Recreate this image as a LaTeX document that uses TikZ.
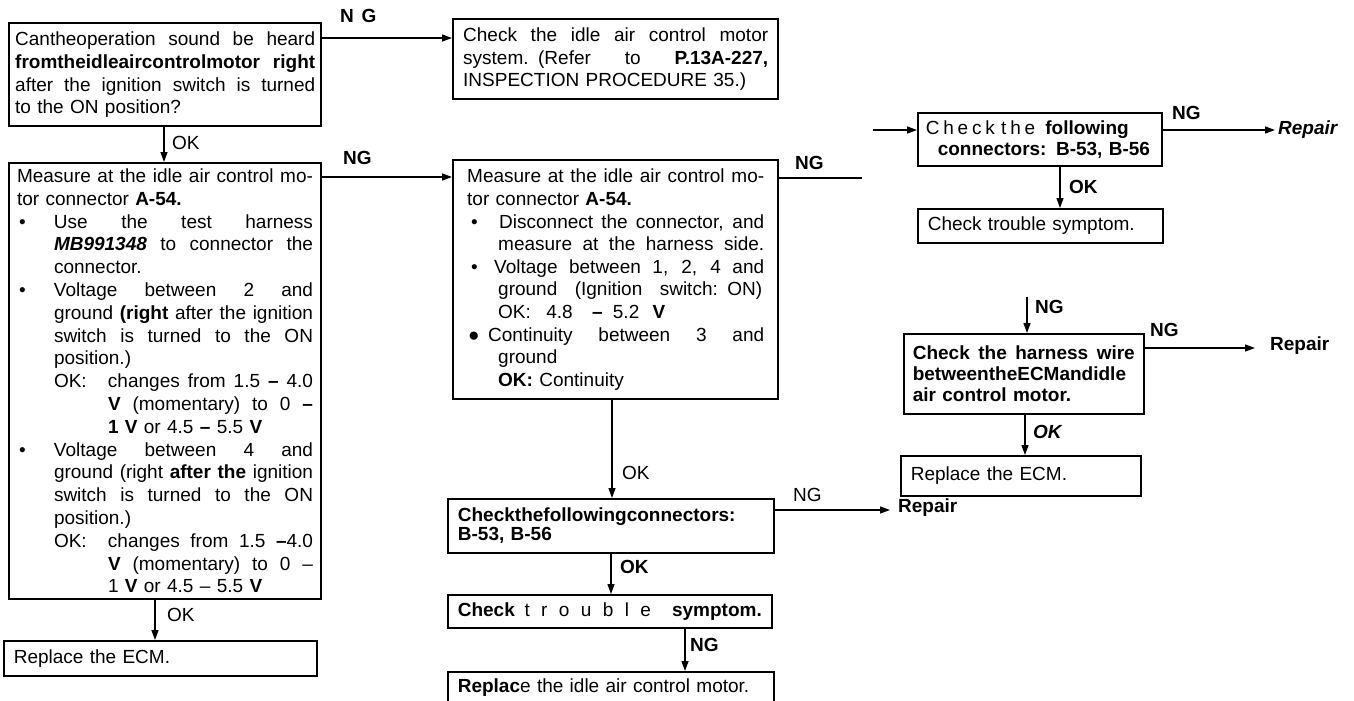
\documentclass[tikz,border=0pt]{standalone}
\usepackage{fontspec}
\setmainfont{Liberation Sans}
\usetikzlibrary{arrows.meta}
\newcommand\fs{\fontsize{19}{22.8}\selectfont}
% justified line of a given width
\newcommand\jw[2]{\makebox[#1][s]{\spaceskip=0.278em plus 1fil minus 0.04em\relax #2}}
\newcommand\lind[2]{\hspace*{#1}#2}
% bullet line: bullet offset, text indent, bullet, width of text, text
\newcommand\bitem[5]{\makebox[#2][l]{\hspace*{#1}#3}\jw{#4}{#5}}
\begin{document}
\begin{tikzpicture}[x=1pt,y=-1pt,
  box/.style={draw, line width=1.6pt, anchor=north west, align=left, inner ysep=0pt, font=\fs},
  thick box/.style={box, line width=2.4pt},
  arr/.style={line width=1.3pt, -{Triangle[length=10pt,width=7pt]}},
  plain/.style={line width=1.3pt},
  lab/.style={anchor=west, inner sep=0pt, font=\fs},
  blab/.style={anchor=west, inner sep=0pt, font=\fs\bfseries}]
\useasboundingbox[fill=white] (0,0) rectangle (1354,701);

% ---------------- left column
\node[thick box, text width=300pt, inner xsep=6pt, minimum height=103pt] (b1) at (8,22) {%
\jw{300pt}{Cantheoperation sound be heard}\\
\jw{300pt}{\bfseries fromtheidleaircontrolmotor right}\\
\jw{300pt}{after the ignition switch is turned}\\
to the ON position?};

\node[box, line width=2pt, text width=296pt, inner xsep=8pt, minimum height=436pt] (b3) at (8,162) {%
\jw{296pt}{Measure at the idle air control mo-}\\
tor connector \textbf{A-54.}\\
\bitem{2pt}{37pt}{•}{259pt}{Use the test harness}\\
\lind{37pt}{\jw{259pt}{\textbf{\textit{MB991348}} to connector the}}\\
\lind{37pt}{connector.}\\
\bitem{2pt}{37pt}{•}{259pt}{Voltage between 2 and}\\
\lind{37pt}{\jw{259pt}{ground \textbf{(right} after the ignition}}\\
\lind{37pt}{\jw{259pt}{switch is turned to the ON}}\\
\lind{37pt}{position.)}\\
\lind{37pt}{\makebox[54pt][l]{OK:}\jw{205pt}{changes from 1.5 \textbf{–} 4.0}}\\
\lind{91pt}{\jw{205pt}{\textbf{V} (momentary) to 0 \textbf{–}}}\\
\lind{91pt}{\textbf{1 V} or 4.5 \textbf{–} 5.5 \textbf{V}}\\
\bitem{2pt}{37pt}{•}{259pt}{Voltage between 4 and}\\
\lind{37pt}{\jw{259pt}{ground (right \textbf{after the} ignition}}\\
\lind{37pt}{\jw{259pt}{switch is turned to the ON}}\\
\lind{37pt}{position.)}\\
\lind{37pt}{\makebox[54pt][l]{OK:}\jw{205pt}{changes from 1.5 \textbf{–}4.0}}\\
\lind{91pt}{\jw{205pt}{\textbf{V} (momentary) to 0 –}}\\
\lind{91pt}{1 \textbf{V} or 4.5 – 5.5 \textbf{V}}};

\node[box, text width=293pt, inner xsep=10pt, minimum height=35pt] (b4) at (3,640) {Replace the ECM.};

% ---------------- middle column
\node[thick box, text width=305pt, inner xsep=10pt, minimum height=80pt] (b2) at (452,18) {%
\jw{305pt}{Check the idle air control motor}\\
\jw{305pt}{system. (Refer to \textbf{P.13A-227,}}\\
INSPECTION PROCEDURE 35.)};

\node[thick box, text width=297pt, inner xsep=14pt, minimum height=239pt, font=\fontsize{19}{22.6}\selectfont] (b5) at (452,159) {%
\jw{297pt}{Measure at the idle air control mo-}\\
tor connector \textbf{A-54.}\\
\bitem{4pt}{32pt}{•}{265pt}{Disconnect the connector, and}\\
\lind{31pt}{\jw{266pt}{measure at the harness side.}}\\
\bitem{4pt}{27pt}{•}{270pt}{Voltage between 1, 2, 4 and}\\
\lind{31pt}{\jw{264pt}{ground (Ignition switch: ON)}}\\
\lind{31pt}{OK:\ \hspace{9pt}4.8\ \hspace{13pt}\textbf{–}\ \hspace{4pt}5.2\ \hspace{7pt}\textbf{V}}\\
\bitem{1pt}{21pt}{●}{276pt}{Continuity between 3 and}\\
\lind{31pt}{ground}\\
\lind{31pt}{\textbf{OK:} Continuity}};

\node[box, line width=1.8pt, text width=306pt, inner xsep=10pt, minimum height=54pt, font=\fontsize{19}{19}\selectfont\bfseries] (m1) at (447,498) {%
Checkthefollowingconnectors:\\
B-53, B-56};

\node[box, text width=304pt, inner xsep=10pt, minimum height=33pt] (m2) at (447,594) {%
\jw{304pt}{\textbf{Check} {\addfontfeature{LetterSpace=60}trouble} \textbf{symptom.}}};

\node[box, text width=306pt, inner xsep=10pt, minimum height=32pt] (m3) at (447,671) {%
\textbf{Replac}e the idle air control motor.};

% ---------------- right column
\node[box, text width=228pt, inner xsep=8pt, minimum height=53pt, font=\fontsize{19}{21}\selectfont] (r0) at (917,112) {%
{\addfontfeature{LetterSpace=20}Check the} \textbf{following}\\
\mbox{\hspace*{12pt}\textbf{connectors: B-53, B-56}}};

\node[box, text width=225pt, inner xsep=10pt, minimum height=34pt] (r1) at (917,208) {Check trouble symptom.};

\node[box, text width=222pt, inner xsep=9pt, minimum height=80pt, font=\fontsize{19}{21}\selectfont\bfseries] (r2) at (903,333) {%
\jw{222pt}{Check the harness wire}\\
\jw{222pt}{betweentheECMandidle}\\
air control motor.};

\node[box, text width=220pt, inner xsep=10pt, minimum height=40pt] (r3) at (900,455) {Replace the ECM.};

% ---------------- end labels
\node[lab, font=\fs\bfseries\itshape] (rep1) at (1278,130) {Repair};
\node[blab] (rep2) at (1270,346) {Repair};
\node[blab] (rep3) at (898,508) {Repair};

% ---------------- connectors
\coordinate (a1) at ([yshift=-16pt]b1.north east);
\draw[arr] (a1) -- (a1 -| b2.west);
\node[blab] (l1) at (340,16) {\addfontfeature{LetterSpace=40}NG};

\coordinate (x164) at (164,0);
\draw[arr] (b1.south -| x164) -- (b3.north -| x164);
\node[lab] (l2) at (172,143) {OK};

\coordinate (a3) at ([yshift=-15pt]b3.north east);
\draw[arr] (a3) -- (a3 -| b5.west);
\node[blab] (l3) at (343,158) {NG};

\coordinate (a5) at ([yshift=-19pt]b5.north east);
\coordinate (e5) at (862,178);
\draw[plain] (a5) -- (e5);
\node[blab] (l4) at (795,163) {NG};

\coordinate (s6) at (873,130);
\draw[arr] (s6) -- (s6 -| r0.west);

\coordinate (a6) at ([yshift=-18pt]r0.north east);
\draw[arr, shorten >=3pt] (a6) -- (a6 -| rep1.west);
\node[blab] (l5) at (1172,113) {NG};

\coordinate (x1060) at (1060,0);
\draw[arr] (r0.south -| x1060) -- (r1.north -| x1060);
\node[blab] (l6) at (1069,187) {OK};

\coordinate (s8) at (1027,297);
\draw[arr] (s8) -- (s8 |- r2.north);
\node[blab] (l7) at (1035,307) {NG};

\coordinate (a9) at ([yshift=-15pt]r2.north east);
\draw[arr, shorten >=15pt] (a9) -- (a9 -| rep2.west);
\node[blab] (l8) at (1150,330) {NG};

\coordinate (x1025) at (1025,0);
\draw[arr] (r2.south -| x1025) -- (r3.north -| x1025);
\node[blab] (l9) at (1033,432) {\itshape OK};

\coordinate (x612) at (612,0);
\draw[arr] (b5.south -| x612) -- (m1.north -| x612);
\node[lab] (l10) at (622,473) {OK};

\coordinate (a12) at ([yshift=-12pt]m1.north east);
\draw[arr, shorten >=8pt] (a12) -- (a12 -| rep3.west);
\node[lab] (l11) at (793,495) {NG};

\coordinate (x611) at (611,0);
\draw[arr] (m1.south -| x611) -- (m2.north -| x611);
\node[blab] (l12) at (620,567) {OK};

\coordinate (x685) at (685,0);
\draw[arr] (m2.south -| x685) -- (m3.north -| x685);
\node[blab] (l13) at (690,645) {NG};

\coordinate (x155) at (155,0);
\draw[arr] (b3.south -| x155) -- (b4.north -| x155);
\node[lab] (l14) at (167,615) {OK};
\end{tikzpicture}
\end{document}
